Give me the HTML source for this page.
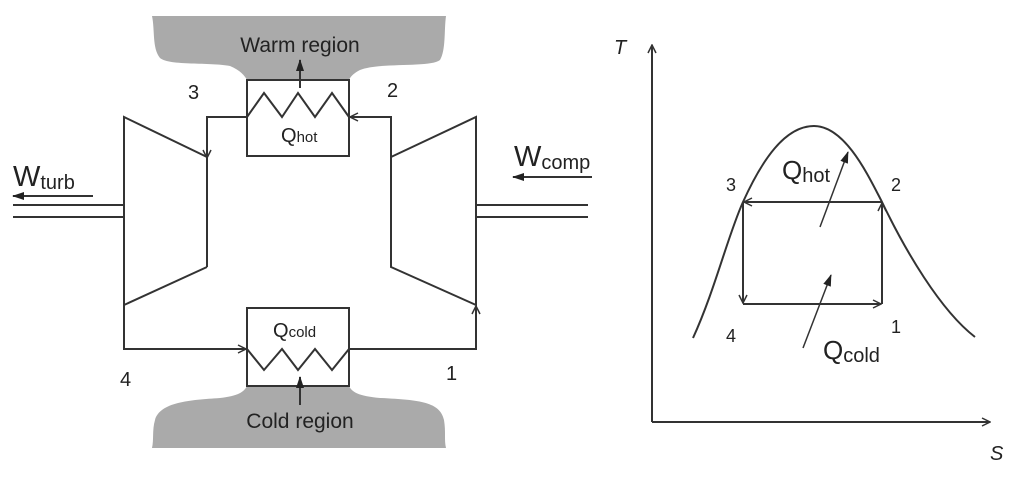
<!DOCTYPE html>
<html><head><meta charset="utf-8"><style>
html,body{margin:0;padding:0;background:#fff;}
svg{display:block;}
text{font-family:"Liberation Sans",Arial,sans-serif;fill:#222;}
</style></head><body>
<svg width="1024" height="479" viewBox="0 0 1024 479" xmlns="http://www.w3.org/2000/svg">
<defs>
<marker id="oa" markerWidth="10" markerHeight="10" refX="9" refY="5" orient="auto" markerUnits="userSpaceOnUse"><path d="M1,1 L9,5 L1,9" fill="none" stroke="#333" stroke-width="1.5"/></marker>
<marker id="fa" markerWidth="12" markerHeight="10" refX="11" refY="5" orient="auto" markerUnits="userSpaceOnUse"><path d="M0,1 L12,5 L0,9 Z" fill="#222"/></marker>
</defs>
<g stroke="#333" stroke-width="2" fill="none">
<path d="M152,16 L446,16 C444,30 446,50 440,60 C430,68 380,62 360,70 C352,74 350,78 349,80 L247,80 C245,76 240,70 230,66 C210,62 170,66 160,58 C152,48 155,30 152,16 Z" fill="#aaa" stroke="none"/>
<path d="M247,386 L349,386 C352,392 358,396 380,398 C420,400 440,402 444,420 C446,432 444,440 446,448 L152,448 C154,440 152,430 155,420 C160,402 190,400 220,398 C238,396 244,392 247,386 Z" fill="#aaa" stroke="none"/>
<rect x="247" y="80" width="102" height="76" fill="#fff"/>
<polyline points="247,117 264,93 282,117 298,93 315,117 332,93 349,117"/>
<line x1="300" y1="88" x2="300" y2="60" marker-end="url(#fa)"/>
<rect x="247" y="308" width="102" height="78" fill="#fff"/>
<polyline points="247,349 264,370 282,349 298,370 315,349 332,370 349,349"/>
<line x1="300" y1="405" x2="300" y2="377" marker-end="url(#fa)"/>
<polyline points="207,267 124,305 124,117 207,157"/>
<polyline points="207,157 207,267"/>
<polyline points="391,157 476,117 476,305 391,267 391,157"/>
<polyline points="247,117 207,117 207,158" marker-end="url(#oa)"/>
<polyline points="391,158 391,117 350,117" marker-end="url(#oa)"/>
<polyline points="124,305 124,349 246,349" marker-end="url(#oa)"/>
<polyline points="349,349 476,349 476,306" marker-end="url(#oa)"/>
<line x1="13" y1="205" x2="124" y2="205"/>
<line x1="13" y1="217" x2="124" y2="217"/>
<line x1="476" y1="205" x2="588" y2="205"/>
<line x1="476" y1="217" x2="588" y2="217"/>
<line x1="93" y1="196" x2="13" y2="196" marker-end="url(#fa)"/>
<line x1="592" y1="177" x2="513" y2="177" marker-end="url(#fa)"/>
<line x1="652" y1="422" x2="652" y2="45" marker-end="url(#oa)"/>
<line x1="652" y1="422" x2="990" y2="422" marker-end="url(#oa)"/>
<path d="M693,338 C715,290 728,235 743,202 C762,160 785,126 814,126 C845,126 868,175 882,202 C905,250 940,310 975,337"/>
<line x1="882" y1="202" x2="744" y2="202" marker-end="url(#oa)"/>
<line x1="743" y1="202" x2="743" y2="303" marker-end="url(#oa)"/>
<line x1="743" y1="304" x2="881" y2="304" marker-end="url(#oa)"/>
<line x1="882" y1="304" x2="882" y2="203" marker-end="url(#oa)"/>
<line x1="820" y1="227" x2="848" y2="152" marker-end="url(#fa)" stroke-width="1.5"/>
<line x1="803" y1="348" x2="831" y2="275" marker-end="url(#fa)" stroke-width="1.5"/>
</g>
<text x="300" y="52" font-size="21" text-anchor="middle">Warm region</text>
<text x="300" y="428" font-size="21" text-anchor="middle">Cold region</text>
<text x="281" y="142" font-size="20">Q<tspan font-size="15">hot</tspan></text>
<text x="273" y="337" font-size="20">Q<tspan font-size="15">cold</tspan></text>
<text x="188" y="99" font-size="20">3</text>
<text x="387" y="97" font-size="20">2</text>
<text x="120" y="386" font-size="20">4</text>
<text x="446" y="380" font-size="20">1</text>
<text x="13" y="186" font-size="29">W<tspan font-size="20" dy="3">turb</tspan></text>
<text x="514" y="166" font-size="29">W<tspan font-size="20" dy="3">comp</tspan></text>
<text x="614" y="54" font-size="20" font-style="italic">T</text>
<text x="990" y="460" font-size="20" font-style="italic">S</text>
<text x="782" y="179" font-size="26">Q<tspan font-size="20" dy="3">hot</tspan></text>
<text x="823" y="359" font-size="26">Q<tspan font-size="20" dy="3">cold</tspan></text>
<text x="726" y="191" font-size="18">3</text>
<text x="891" y="191" font-size="18">2</text>
<text x="726" y="342" font-size="18">4</text>
<text x="891" y="333" font-size="18">1</text>
</svg>
</body></html>
